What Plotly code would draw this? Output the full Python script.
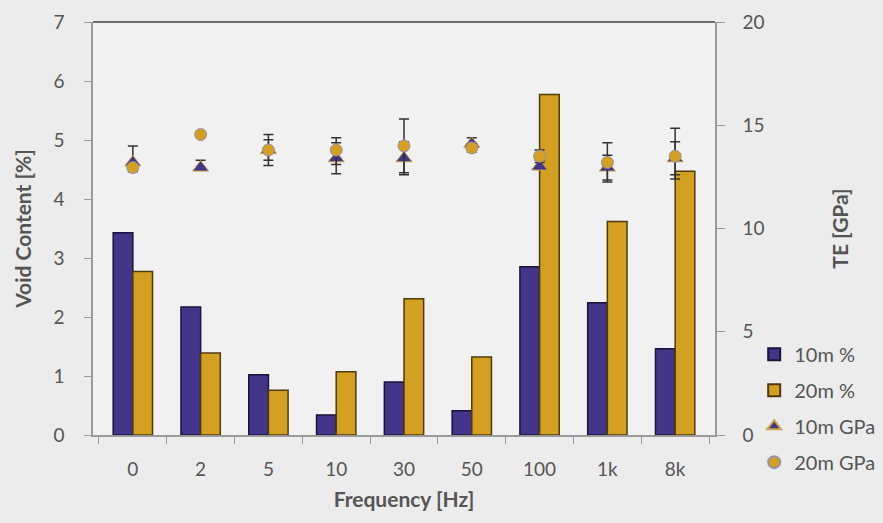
import plotly.graph_objects as go

# Excitation frequencies
freq = ["0", "2", "5", "10", "30", "50", "100", "1k", "8k"]

# Void content [%]
void_10m = [3.43, 2.17, 1.02, 0.34, 0.90, 0.41, 2.85, 2.24, 1.46]
void_20m = [2.77, 1.39, 0.76, 1.07, 2.31, 1.32, 5.77, 3.62, 4.47]

# Tensile modulus [GPa] with error bars
te_10m = [13.2, 12.95, 13.8, 13.4, 13.4, 14.1, 13.0, 12.95, 13.4]
te_10m_up = [0.8, 0.35, 0.5, 0.75, 0.8, 0.3, 0.3, 0.6, 0.8]
te_10m_dn = [0.2, 0.1, 0.5, 0.75, 0.8, 0.1, 0.1, 0.6, 0.8]
te_20m = [12.95, 14.55, 13.8, 13.8, 14.0, 13.9, 13.5, 13.2, 13.5]
te_20m_up = [0.2, 0.0, 0.75, 0.6, 1.3, 0.2, 0.3, 0.95, 1.35]
te_20m_dn = [0.2, 0.0, 0.75, 0.7, 1.3, 0.2, 0.3, 0.95, 1.1]

PURPLE = "#43358a"
GOLD = "#d4a021"
TXT = "#555555"
FONT = "Lato"

fig = go.Figure()

fig.add_trace(go.Bar(
    x=freq, y=void_10m, name="10m %", legendgroup="a",
    marker=dict(color=PURPLE, line=dict(color="#1b1338", width=1.5)),
))
fig.add_trace(go.Bar(
    x=freq, y=void_20m, name="20m %", legendgroup="b",
    marker=dict(color=GOLD, line=dict(color="#4e3a0c", width=1.5)),
))

fig.add_trace(go.Scatter(
    x=freq, y=te_10m, name="10m GPa", yaxis="y2", mode="markers", legendgroup="c",
    marker=dict(symbol="triangle-up", size=14, color=PURPLE,
                line=dict(color="#c9a64a", width=1)),
    error_y=dict(type="data", array=te_10m_up, arrayminus=te_10m_dn,
                 color="#333333", thickness=1.5, width=5),
))
fig.add_trace(go.Scatter(
    x=freq, y=te_20m, name="20m GPa", yaxis="y2", mode="markers", legendgroup="d",
    marker=dict(symbol="circle", size=12, color=GOLD,
                line=dict(color="#9a8fb0", width=1)),
    error_y=dict(type="data", array=te_20m_up, arrayminus=te_20m_dn,
                 color="#333333", thickness=1.5, width=5),
))

fig.update_layout(
    width=883, height=523,
    margin=dict(l=93, r=168, t=22, b=88, autoexpand=False),
    paper_bgcolor="#ececec",
    plot_bgcolor="#f1f1f1",
    font=dict(family=FONT, size=19, color=TXT),
    barmode="group",
    bargap=0.42,
    bargroupgap=0.0,
    showlegend=True,
    legend=dict(
        x=1.063, y=0.243, xanchor="left", yanchor="top",
        bgcolor="rgba(0,0,0,0)", font=dict(size=20, color=TXT),
        tracegroupgap=7, itemsizing="constant", traceorder="grouped",
        itemwidth=30,
    ),
    xaxis=dict(
        automargin=False,
        showline=True, linecolor="#9a9a9a", linewidth=1.5,
        ticks="outside", tickson="boundaries", ticklen=7, tickcolor="#9a9a9a",
        ticklabelstandoff=16,
        tickfont=dict(size=19, color=TXT),
        title=dict(text="<b>Frequency [Hz]</b>", font=dict(size=21, color=TXT),
                   standoff=14),
        showgrid=False, zeroline=False,
    ),
    yaxis=dict(
        automargin=False,
        range=[0, 7], dtick=1,
        showline=True, linecolor="#9a9a9a", linewidth=1.5,
        ticks="outside", ticklen=7, tickcolor="#9a9a9a",
        ticklabelstandoff=16,
        tickfont=dict(size=19, color=TXT),
        title=dict(text="<b>Void Content [%]</b>", font=dict(size=21, color=TXT),
                   standoff=16),
        showgrid=False, zeroline=False,
    ),
    yaxis2=dict(
        automargin=False,
        range=[0, 20], dtick=5, overlaying="y", side="right",
        showline=True, linecolor="#9a9a9a", linewidth=1.5,
        ticks="outside", ticklen=8, tickcolor="#9a9a9a",
        ticklabelstandoff=14,
        tickfont=dict(size=19, color=TXT),
        title=dict(text="<b>TE [GPa]</b>", font=dict(size=21, color=TXT),
                   standoff=70),
        showgrid=False, zeroline=False,
    ),
    shapes=[dict(type="line", xref="paper", yref="paper", x0=0, x1=1, y0=1, y1=1,
                 line=dict(color="#444444", width=1.5))],
)

fig.write_html("out.html")
